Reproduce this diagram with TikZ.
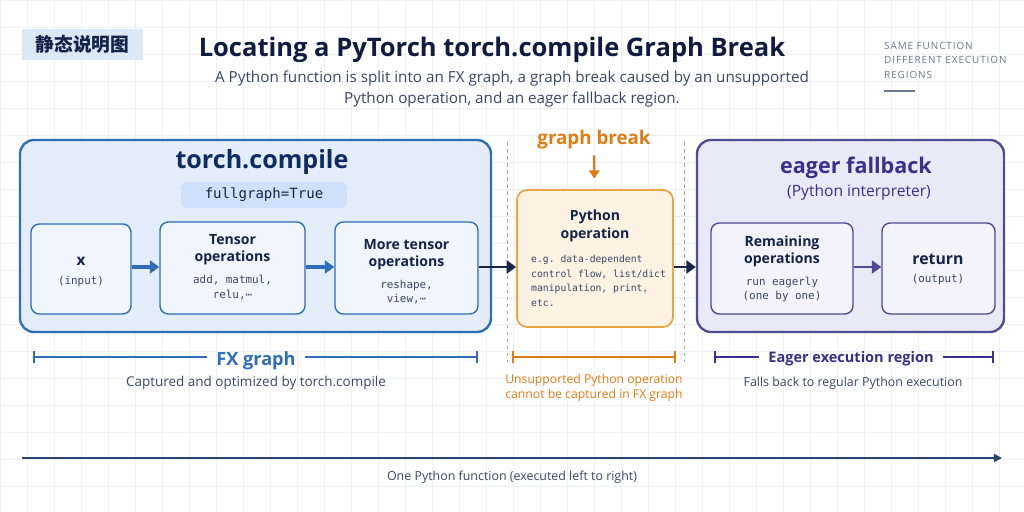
\documentclass[tikz,border=0pt]{standalone}
\usepackage{fontspec}
\setmainfont{Open Sans}
\setmonofont{DejaVu Sans Mono}
\newfontfamily\cjk{Noto Sans CJK SC}
\usepackage{tikz}
\usepackage{xcolor}
\usetikzlibrary{shapes.geometric, arrows.meta, positioning}

\definecolor{gridc}{HTML}{EDF0F5}
\definecolor{tagfill}{HTML}{DCE8F6}
\definecolor{titlec}{HTML}{0F1C3F}
\definecolor{subc}{HTML}{3A4766}
\definecolor{asidec}{HTML}{6A7890}
\definecolor{blueline}{HTML}{2F6DB8}
\definecolor{bluefill}{HTML}{E4EEFB}
\definecolor{blueinner}{HTML}{F0F6FE}
\definecolor{pillfill}{HTML}{CFE1F8}
\definecolor{navyc}{HTML}{0E2B63}
\definecolor{inkc}{HTML}{14234A}
\definecolor{orangec}{HTML}{E07C14}
\definecolor{orangeline}{HTML}{E9A444}
\definecolor{orangefill}{HTML}{FEF3E2}
\definecolor{purpleline}{HTML}{4E4C96}
\definecolor{purplefill}{HTML}{EAE9F8}
\definecolor{purpleinner}{HTML}{F4F3FC}
\definecolor{purplec}{HTML}{36318C}
\definecolor{darkarrow}{HTML}{17284B}
\definecolor{fnline}{HTML}{2C4570}

\tikzstyle{bigbox} = [rectangle, rounded corners=0.42cm, line width=2pt]
\tikzstyle{opbox} = [rectangle, rounded corners=0.25cm, line width=1.2pt]
\tikzstyle{boldtext} = [text=inkc, font=\fontsize{12}{14.3}\selectfont\bfseries, align=center]
\tikzstyle{monotext} = [text=subc, font=\ttfamily\fontsize{9.3}{12.5}\selectfont, align=center]
\tikzstyle{arrow} = [line width=3pt, -{Triangle[length=8pt,width=11pt]}]
\tikzstyle{spanline} = [line width=1.3pt]

\begin{document}
\begin{tikzpicture}[x=0.03cm, y=-0.03cm, every node/.style={inner sep=0pt}]

\useasboundingbox (0,0) rectangle (1024,512);
\fill[white] (0,0) rectangle (1024,512);
\foreach \gx in {0,27,...,1024} \draw[gridc, line width=0.4pt] (\gx,0) -- (\gx,512);
\foreach \gy in {0,27,...,512} \draw[gridc, line width=0.4pt] (0,\gy) -- (1024,\gy);

% header
\node (tag) [fill=tagfill, minimum width=3.63cm, minimum height=0.93cm, text=inkc] at (82.5,44.5) {\cjk\fontsize{16}{18}\selectfont\bfseries 静态说明图};
\node (title) [text=titlec, font=\fontsize{21.8}{25}\selectfont\bfseries] at (492,50) {Locating a PyTorch torch.compile Graph Break};
\node (subtitle) [text=subc, font=\fontsize{13}{17.5}\selectfont, align=center] at (512,89) {A Python function is split into an FX graph, a graph break caused by an unsupported\\Python operation, and an eager fallback region.};
\node (aside) [anchor=north west, text=asidec, align=left, font=\fontsize{8.5}{12.4}\selectfont\addfontfeatures{LetterSpace=9}] at (884,42) {SAME FUNCTION\\DIFFERENT EXECUTION\\REGIONS};
\coordinate (asidel) at (884,91);
\coordinate (asider) at (915,91);
\draw[asidec, line width=1.5pt] (asidel) -- (asider);

% torch.compile region
\node (compile) [bigbox, draw=blueline, fill=bluefill, minimum width=14.13cm, minimum height=5.76cm] at (255.5,236) {};
\node (compiletitle) [text=navyc, font=\fontsize{21.4}{24}\selectfont\bfseries] at (262,162) {torch.compile};
\node (fullgraph) [fill=pillfill, rounded corners=5pt, minimum width=4.98cm, minimum height=0.78cm, text=inkc, font=\ttfamily\fontsize{12}{14}\selectfont] at (264,195) {fullgraph=True};

\node (xin) [opbox, draw=blueline, fill=blueinner, minimum width=3cm, minimum height=2.7cm] at (81,269) {};
\node (xname) [boldtext, font=\fontsize{13}{15}\selectfont\bfseries] at (81,261) {x};
\node (xsub) [monotext] at (81,281) {(input)};

\node (tensorops) [opbox, draw=blueline, fill=blueinner, minimum width=4.35cm, minimum height=2.76cm] at (232.5,268) {};
\node (tensorname) [boldtext] at (232.5,250) {Tensor\\operations};
\node (tensorsub) [monotext] at (232.5,287.5) {add, matmul,\\relu,⋯};

\node (moreops) [opbox, draw=blueline, fill=blueinner, minimum width=4.29cm, minimum height=2.76cm] at (406.5,268) {};
\node (morename) [boldtext] at (406.5,255) {More tensor\\operations};
\node (moresub) [monotext] at (406.5,292) {reshape,\\view,⋯};

\draw[arrow, blueline] (xin.east |- 0,267) -- (tensorops.west |- 0,267);
\draw[arrow, blueline] (tensorops.east |- 0,267) -- (moreops.west |- 0,267);

% graph break
\coordinate (sepa) at (507,142);
\coordinate (sepb) at (507,362);
\coordinate (sepc) at (684,142);
\coordinate (sepd) at (684,362);
\draw[gray!70, dashed, line width=0.8pt] (sepa) -- (sepb);
\draw[gray!70, dashed, line width=0.8pt] (sepc) -- (sepd);

\node (gbreak) [text=orangec, font=\fontsize{16}{19}\selectfont\bfseries] at (594,140) {graph break};
\node (pyop) [opbox, rounded corners=0.3cm, draw=orangeline, fill=orangefill, line width=1.5pt, minimum width=4.68cm, minimum height=4.11cm] at (595,258.5) {};
\draw[orangec, line width=2pt, -{Triangle[length=7pt,width=9pt]}, shorten <=5pt, shorten >=9pt] (gbreak) -- (pyop);
\node (pyname) [boldtext, font=\fontsize{12}{15.5}\selectfont\bfseries] at (595,226) {Python\\operation};
\node (pysub) [monotext, anchor=north west, align=left, font=\ttfamily\fontsize{8.3}{12.5}\selectfont] at (531,255) {e.g. data-dependent\\control flow, list/dict\\manipulation, print,\\etc.};

% eager fallback region
\node (eager) [bigbox, draw=purpleline, fill=purplefill, minimum width=9.21cm, minimum height=5.76cm] at (850.5,236) {};
\node (eagertitle) [text=purplec, font=\fontsize{18.4}{21}\selectfont\bfseries] at (856,168) {eager fallback};
\node (eagersub) [text=purplec, font=\fontsize{13.3}{15}\selectfont] at (859,192) {(Python interpreter)};

\node (remaining) [opbox, draw=purpleline, fill=purpleinner, minimum width=4.26cm, minimum height=2.73cm] at (782,268.5) {};
\node (remname) [boldtext] at (782,251) {Remaining\\operations};
\node (remsub) [monotext] at (782,289.5) {run eagerly\\(one by one)};

\node (ret) [opbox, draw=purpleline, fill=purpleinner, minimum width=3.39cm, minimum height=2.73cm] at (938.5,268.5) {};
\node (retname) [boldtext, font=\fontsize{13.5}{15}\selectfont\bfseries] at (938,259) {return};
\node (retsub) [monotext] at (938,280) {(output)};

\draw[arrow, purpleline, line width=2.5pt] (remaining.east |- 0,267) -- (ret.west |- 0,267);

\draw[arrow, darkarrow, line width=2.5pt] (moreops.east |- 0,267) -- (pyop.west |- 0,267);
\draw[arrow, darkarrow, line width=2.5pt] (pyop.east |- 0,267) -- (eager.west |- 0,267);

% spans
\coordinate (fxl) at (33,357);
\coordinate (fxr) at (478,357);
\node (fxlabel) [text=blueline, font=\fontsize{15.5}{18}\selectfont\bfseries, inner xsep=8pt] at (256,361) {FX graph};
\draw[spanline, blueline, {Bar[width=10pt]}-] (fxl) -- (fxlabel.west |- fxl);
\draw[spanline, blueline, -{Bar[width=10pt]}] (fxlabel.east |- fxr) -- (fxr);
\node (fxsub) [text=subc, font=\fontsize{11.5}{13}\selectfont] at (256,383) {Captured and optimized by torch.compile};

\coordinate (ubl) at (512,357);
\coordinate (ubr) at (676,357);
\draw[spanline, orangec, {Bar[width=10pt]}-{Bar[width=10pt]}] (ubl) -- (ubr);
\node (ubsub) [text=orangec, align=center, font=\fontsize{10.4}{12.8}\selectfont] at (594,388) {Unsupported Python operation\\cannot be captured in FX graph};

\coordinate (eql) at (714,357);
\coordinate (eqr) at (994,357);
\node (eqlabel) [text=purplec, font=\fontsize{12.4}{14}\selectfont\bfseries, inner xsep=8pt] at (851,359) {Eager execution region};
\draw[spanline, purplec, {Bar[width=10pt]}-] (eql) -- (eqlabel.west |- eql);
\draw[spanline, purplec, -{Bar[width=10pt]}] (eqlabel.east |- eqr) -- (eqr);
\node (eqsub) [text=subc, font=\fontsize{10.6}{12}\selectfont] at (853,383) {Falls back to regular Python execution};

% whole function
\coordinate (fnstart) at (22,458);
\coordinate (fnend) at (1002,458);
\draw[fnline, line width=1.4pt, -{Triangle[length=7pt,width=7pt]}] (fnstart) -- (fnend);
\node (fnlabel) [text=subc, font=\fontsize{10.6}{12}\selectfont] at (512,477) {One Python function (executed left to right)};

\end{tikzpicture}
\end{document}
